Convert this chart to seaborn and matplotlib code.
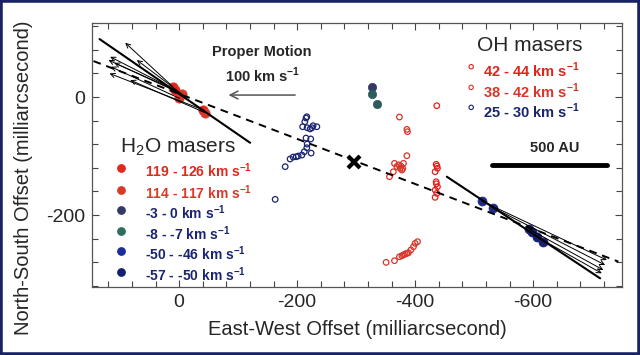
import numpy as np
import pandas as pd
import matplotlib
matplotlib.use('Agg')
import matplotlib.pyplot as plt
from matplotlib.ticker import MultipleLocator, FixedLocator
from matplotlib.patches import Rectangle
import seaborn as sns

# ---- OH masers (open circles), offsets in mas
oh_4244_x = [-436.7, -435.6, -437.8, -433.9, -435.6, -437.8, -433.9, -436.8, -433.9, -436.0, -437.0]
oh_4244_y = [-14.7, -114.0, -120.8, -126.6, -143.6, -152.0, -157.6, -163.2, -170.0, -147.0, -117.0]
oh_3842_x = [-373.4, -386.0, -387.0, -386.0, -365.0, -380.2, -374.6, -369.0, -377.5, -363.0, -356.5,
             -372.0, -376.0, -379.0,
             -350.8, -365.0, -373.4, -377.5, -383.0, -388.7, -392.7, -397.2, -400.0, -404.0, -380.0, -386.0]
oh_3842_y = [-33.9, -54.8, -58.7, -99.4, -112.4, -112.4, -120.9, -118.0, -123.7, -126.6, -135.0,
             -115.0, -117.0, -121.0,
             -280.2, -277.4, -270.7, -269.0, -266.0, -263.9, -259.3, -253.7, -248.0, -245.2, -267.8, -265.0]
oh_2530_x = [-216.4, -213.0, -209.3, -216.9, -222.0, -227.0, -233.4, -215.0, -225.0,
             -215.0, -223.0, -217.0, -216.4, -212.0, -223.7, -208.0, -201.7, -198.3, -193.2, -188.0,
             -179.7, -162.7]
oh_2530_y = [-33.4, -41.9, -50.3, -52.0, -54.0, -48.6, -50.3, -35.6, -52.0,
             -69.5, -71.0, -79.7, -85.9, -92.7, -95.0, -98.3, -100.0, -101.2, -101.7, -105.0,
             -118.0, -173.4]

# ---- H2O masers (filled circles)
h2o_119_x = [10.7, 6.8, -41.2]
h2o_119_y = [17.5, 11.9, -22.0]
h2o_114_x = [-4.6, -0.5, -44.0]
h2o_114_y = [5.1, -2.2, -26.6]
h2o_m3_x = [-326.6]
h2o_m3_y = [17.5]
h2o_m8_x = [-326.6, -335.0]
h2o_m8_y = [5.1, -11.9]
h2o_m50_x = [-513.0, -532.7]
h2o_m50_y = [-176.3, -187.6]
h2o_m57_x = [-593.7, -597.8, -606.3, -616.4]
h2o_m57_y = [-224.2, -228.3, -236.8, -245.2]

# ---- lines
dash_x = [145.3, -744.6]
dash_y = [61.0, -279.0]
jet_e_x = [135.0, -120.3]
jet_e_y = [98.3, -77.5]
jet_w_x = [-453.7, -713.6]
jet_w_y = [-135.0, -307.3]

# proper motion vectors (start -> end)
pm_e_x0 = [10.7, 6.8, -4.6, -0.5, -41.2, -44.0, -4.6, 6.8]
pm_e_y0 = [17.5, 11.9, 5.1, -2.2, -22.0, -26.6, 5.1, 11.9]
pm_e_x1 = [91.5, 117.0, 119.8, 115.8, 118.0, 83.0, 71.7, 110.0]
pm_e_y1 = [92.0, 68.3, 62.7, 51.4, 40.0, 28.8, 62.7, 58.0]
pm_w_x0 = [-513.0, -532.7, -593.7, -606.3]
pm_w_y0 = [-176.3, -187.6, -224.2, -236.8]
pm_w_x1 = [-724.9, -722.0, -719.0, -716.4]
pm_w_y1 = [-276.3, -284.7, -293.2, -298.8]

center_x, center_y = -296.6, -109.7
scale_x = [-530.5, -725.4]
scale_y = [-115.3, -115.3]
ref_x = [-196.6, -83.6]   # 100 km/s reference arrow
ref_y = 3.4

oh_labels = ['42 - 44', '38 - 42', '25 - 30']
h2o_labels = ['119 - 126', '114 - 117', '-3 - 0', '-8 - -7', '-50 - -46', '-57 - -50']

RED = '#e3231b'
RED2 = '#d9352a'
NAVY = '#1b2470'

sns.set_theme(style='ticks')
plt.rcParams['font.family'] = ['Liberation Sans', 'DejaVu Sans']
plt.rcParams['mathtext.fontset'] = 'custom'
plt.rcParams['mathtext.rm'] = 'Liberation Sans'
plt.rcParams['mathtext.bf'] = 'Liberation Sans:bold'
plt.rcParams['axes.unicode_minus'] = False

fig = plt.figure(figsize=(6.4, 3.55), dpi=100, facecolor='white')
fig.patches.append(Rectangle((0, 0), 1, 1, transform=fig.transFigure, fill=False,
                             edgecolor='#1a2266', linewidth=4))
ax = fig.add_axes([0.144, 0.1915, 0.828, 0.7435])

# lines
sns.lineplot(x=dash_x, y=dash_y, ax=ax, color='black', linestyle=(0, (4, 3)), lw=1.4, sort=False, estimator=None)
sns.lineplot(x=jet_e_x, y=jet_e_y, ax=ax, color='black', lw=1.5, sort=False, estimator=None)
sns.lineplot(x=jet_w_x, y=jet_w_y, ax=ax, color='black', lw=1.5, sort=False, estimator=None)

for x0, y0, x1, y1 in zip(pm_e_x0 + pm_w_x0, pm_e_y0 + pm_w_y0, pm_e_x1 + pm_w_x1, pm_e_y1 + pm_w_y1):
    ax.annotate('', xy=(x1, y1), xytext=(x0, y0),
                arrowprops=dict(arrowstyle='->', color='black', lw=0.7, mutation_scale=8,
                                shrinkA=0, shrinkB=0))

ax.annotate('', xy=(ref_x[1], ref_y), xytext=(ref_x[0], ref_y),
            arrowprops=dict(arrowstyle='->', color='#555555', lw=1.1, mutation_scale=14,
                            shrinkA=0, shrinkB=0))

# OH masers
for xs, ys, c in [(oh_4244_x, oh_4244_y, RED), (oh_3842_x, oh_3842_y, RED2), (oh_2530_x, oh_2530_y, NAVY)]:
    sns.scatterplot(x=xs, y=ys, ax=ax, marker='o', s=16, facecolors='none', edgecolors=c, linewidth=0.9)

# H2O masers
h2o_sets = [(h2o_119_x, h2o_119_y, '#e5261c', 45), (h2o_114_x, h2o_114_y, '#d83a2a', 45),
            (h2o_m3_x, h2o_m3_y, '#333a66', 36), (h2o_m8_x, h2o_m8_y, '#2e5c5c', 36),
            (h2o_m50_x, h2o_m50_y, '#1c2c8c', 42), (h2o_m57_x, h2o_m57_y, '#142070', 42)]
for xs, ys, c, s in h2o_sets:
    sns.scatterplot(x=xs, y=ys, ax=ax, marker='o', s=s, color=c, edgecolor=c, linewidth=0.5)

ax.plot(center_x, center_y, marker='x', color='black', ms=8, mew=3)
sns.lineplot(x=scale_x, y=scale_y, ax=ax, color='black', lw=3.5, sort=False, estimator=None)

# annotations
ax.text(-140.7, 76.3, 'Proper Motion', ha='center', va='center', fontsize=10.5, fontweight='bold')
ax.text(-140.7, 37.3, r'100 km s$^{\mathbf{-1}}$', ha='center', va='center', fontsize=10.5, fontweight='bold')
ax.text(-637, -86.4, '500 AU', ha='center', va='center', fontsize=10.5, fontweight='bold')
ax.text(-595, 88, 'OH masers', ha='center', va='center', fontsize=15)
ax.text(1.7, -93.7, r'H$_2$O masers', ha='center', va='baseline', fontsize=15)

oh_cols = [RED, RED2, NAVY]
oh_ly = [51.4, 16.4, -17.5]
for lab, c, yy in zip(oh_labels, oh_cols, oh_ly):
    ax.scatter([-495], [yy], s=10, facecolors='none', edgecolors=c, linewidths=0.8)
    ax.text(-515.8, yy - 6, lab + r' km s$^{\mathbf{-1}}$', color=c, ha='left', va='center',
            fontsize=10.5, fontweight='bold')

h2o_mk = ['#e5261c', '#d83a2a', '#333a66', '#2e6e60', '#1c2c9c', '#142070']
h2o_tc = ['#e5261c', '#d83a2a', NAVY, NAVY, NAVY, NAVY]
h2o_ly = [-120.3, -157.6, -191.5, -227.1, -261.0, -296.6]
for lab, mc, tc, yy in zip(h2o_labels, h2o_mk, h2o_tc, h2o_ly):
    ax.scatter([98.3], [yy], s=28, color=mc)
    ax.text(57.6, yy - 5, lab + r' km s$^{\mathbf{-1}}$', color=tc, ha='left', va='center',
            fontsize=10, fontweight='bold')

ax.set_xlim(147.5, -750.8)
ax.set_ylim(-322, 125.4)
ax.xaxis.set_major_locator(FixedLocator([0, -200, -400, -600]))
ax.yaxis.set_major_locator(FixedLocator([0, -200]))
ax.xaxis.set_minor_locator(MultipleLocator(40))
ax.yaxis.set_minor_locator(MultipleLocator(40))
ax.tick_params(which='both', direction='in', top=True, right=True, color='#444444', width=0.8)
ax.tick_params(which='major', length=5, labelsize=14, pad=5)
ax.tick_params(which='minor', length=4)
for sp in ax.spines.values():
    sp.set_color('#555555')
    sp.set_linewidth(0.9)

ax.set_xlabel('East-West Offset (milliarcsecond)', fontsize=14.5)
ax.set_ylabel('North-South Offset (milliarcsecond)', fontsize=14.5)
ax.xaxis.set_label_coords(0.5, -0.125)
ax.yaxis.set_label_coords(-0.112, 0.413)

fig.savefig('out.png', dpi=100, facecolor='white')
